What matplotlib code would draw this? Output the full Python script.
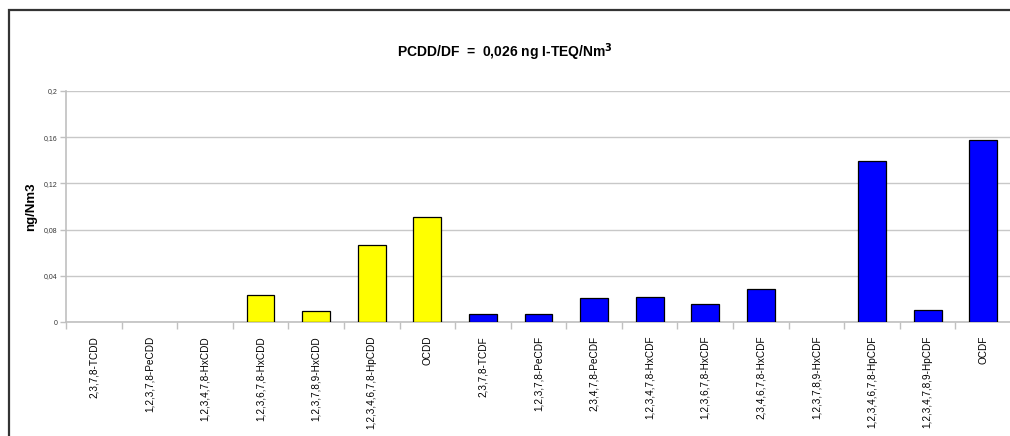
import numpy as np
import matplotlib
matplotlib.use("Agg")
import matplotlib.pyplot as plt
from matplotlib.patches import Rectangle

plt.rcParams['font.family'] = ['Liberation Sans', 'DejaVu Sans']

# congeners and measured concentrations (ng/Nm3)
congeners = ['2,3,7,8-TCDD', '1,2,3,7,8-PeCDD', '1,2,3,4,7,8-HxCDD',
             '1,2,3,6,7,8-HxCDD', '1,2,3,7,8,9-HxCDD', '1,2,3,4,6,7,8-HpCDD',
             'OCDD', '2,3,7,8-TCDF', '1,2,3,7,8-PeCDF', '2,3,4,7,8-PeCDF',
             '1,2,3,4,7,8-HxCDF', '1,2,3,6,7,8-HxCDF', '2,3,4,6,7,8-HxCDF',
             '1,2,3,7,8,9-HxCDF', '1,2,3,4,6,7,8-HpCDF', '1,2,3,4,7,8,9-HpCDF',
             'OCDF']
values = [0.0, 0.0, 0.0, 0.0234, 0.0095, 0.0667, 0.0912, 0.0070, 0.0070,
          0.0210, 0.0217, 0.0156, 0.0290, 0.0, 0.1394, 0.0104, 0.1576]
n_cdd = 7
yticks = [0, 0.04, 0.08, 0.12, 0.16, 0.2]
ytick_labels = ['0', '0,04', '0,08', '0,12', '0,16', '0,2']

colors = ['#ffff00'] * n_cdd + ['#0000ff'] * (len(congeners) - n_cdd)
# zero values leave no visible bar
edges = ['black' if v > 0 else 'none' for v in values]

fig = plt.figure(figsize=(10.1, 4.36), dpi=100)
ax = fig.add_axes([66 / 1010, 114 / 436, 945 / 1010, 231 / 436])

x = np.arange(len(congeners))
ax.bar(x, values, width=0.5, color=colors, edgecolor=edges, linewidth=0.9, zorder=3)

ax.set_xlim(-0.5, len(congeners) - 0.5)
ax.set_ylim(0, 0.2)
ax.set_yticks(yticks)
ax.set_yticklabels(ytick_labels, fontsize=5, color='#333333')
ax.yaxis.grid(True, color='#c8c8c8', linewidth=1.0, zorder=0)

ax.set_xticks(x)
ax.set_xticklabels(congeners, rotation=90, fontsize=7.2, va='top')
ax.set_xticks(np.arange(len(congeners) + 1) - 0.5, minor=True)
ax.tick_params(axis='x', which='major', length=0, pad=10)
ax.tick_params(axis='x', which='minor', length=5, color='#c0c0c0', width=1)
ax.tick_params(axis='y', length=4, color='#c0c0c0', width=1, pad=2)

for s in ['top', 'right']:
    ax.spines[s].set_visible(False)
for s in ['left', 'bottom']:
    ax.spines[s].set_color('#c0c0c0')
    ax.spines[s].set_linewidth(1.2)

ax.set_ylabel('ng/Nm3', fontsize=9.5, fontweight='bold')
ax.yaxis.set_label_coords(-29 / 945, 0.5)

fig.text(0.5, 1 - 52 / 436, r'PCDD/DF  =  0,026 ng I-TEQ/Nm$^\mathbf{3}$',
         ha='center', va='center', fontsize=10, fontweight='bold')

# outer frame of the embedded chart
fig.patches.append(Rectangle((8.5 / 1010, -0.1), 1.2, 1.1 - 10.5 / 436,
                             transform=fig.transFigure, fill=False,
                             edgecolor='#333333', linewidth=1.6))

fig.savefig('out.png', dpi=100)
